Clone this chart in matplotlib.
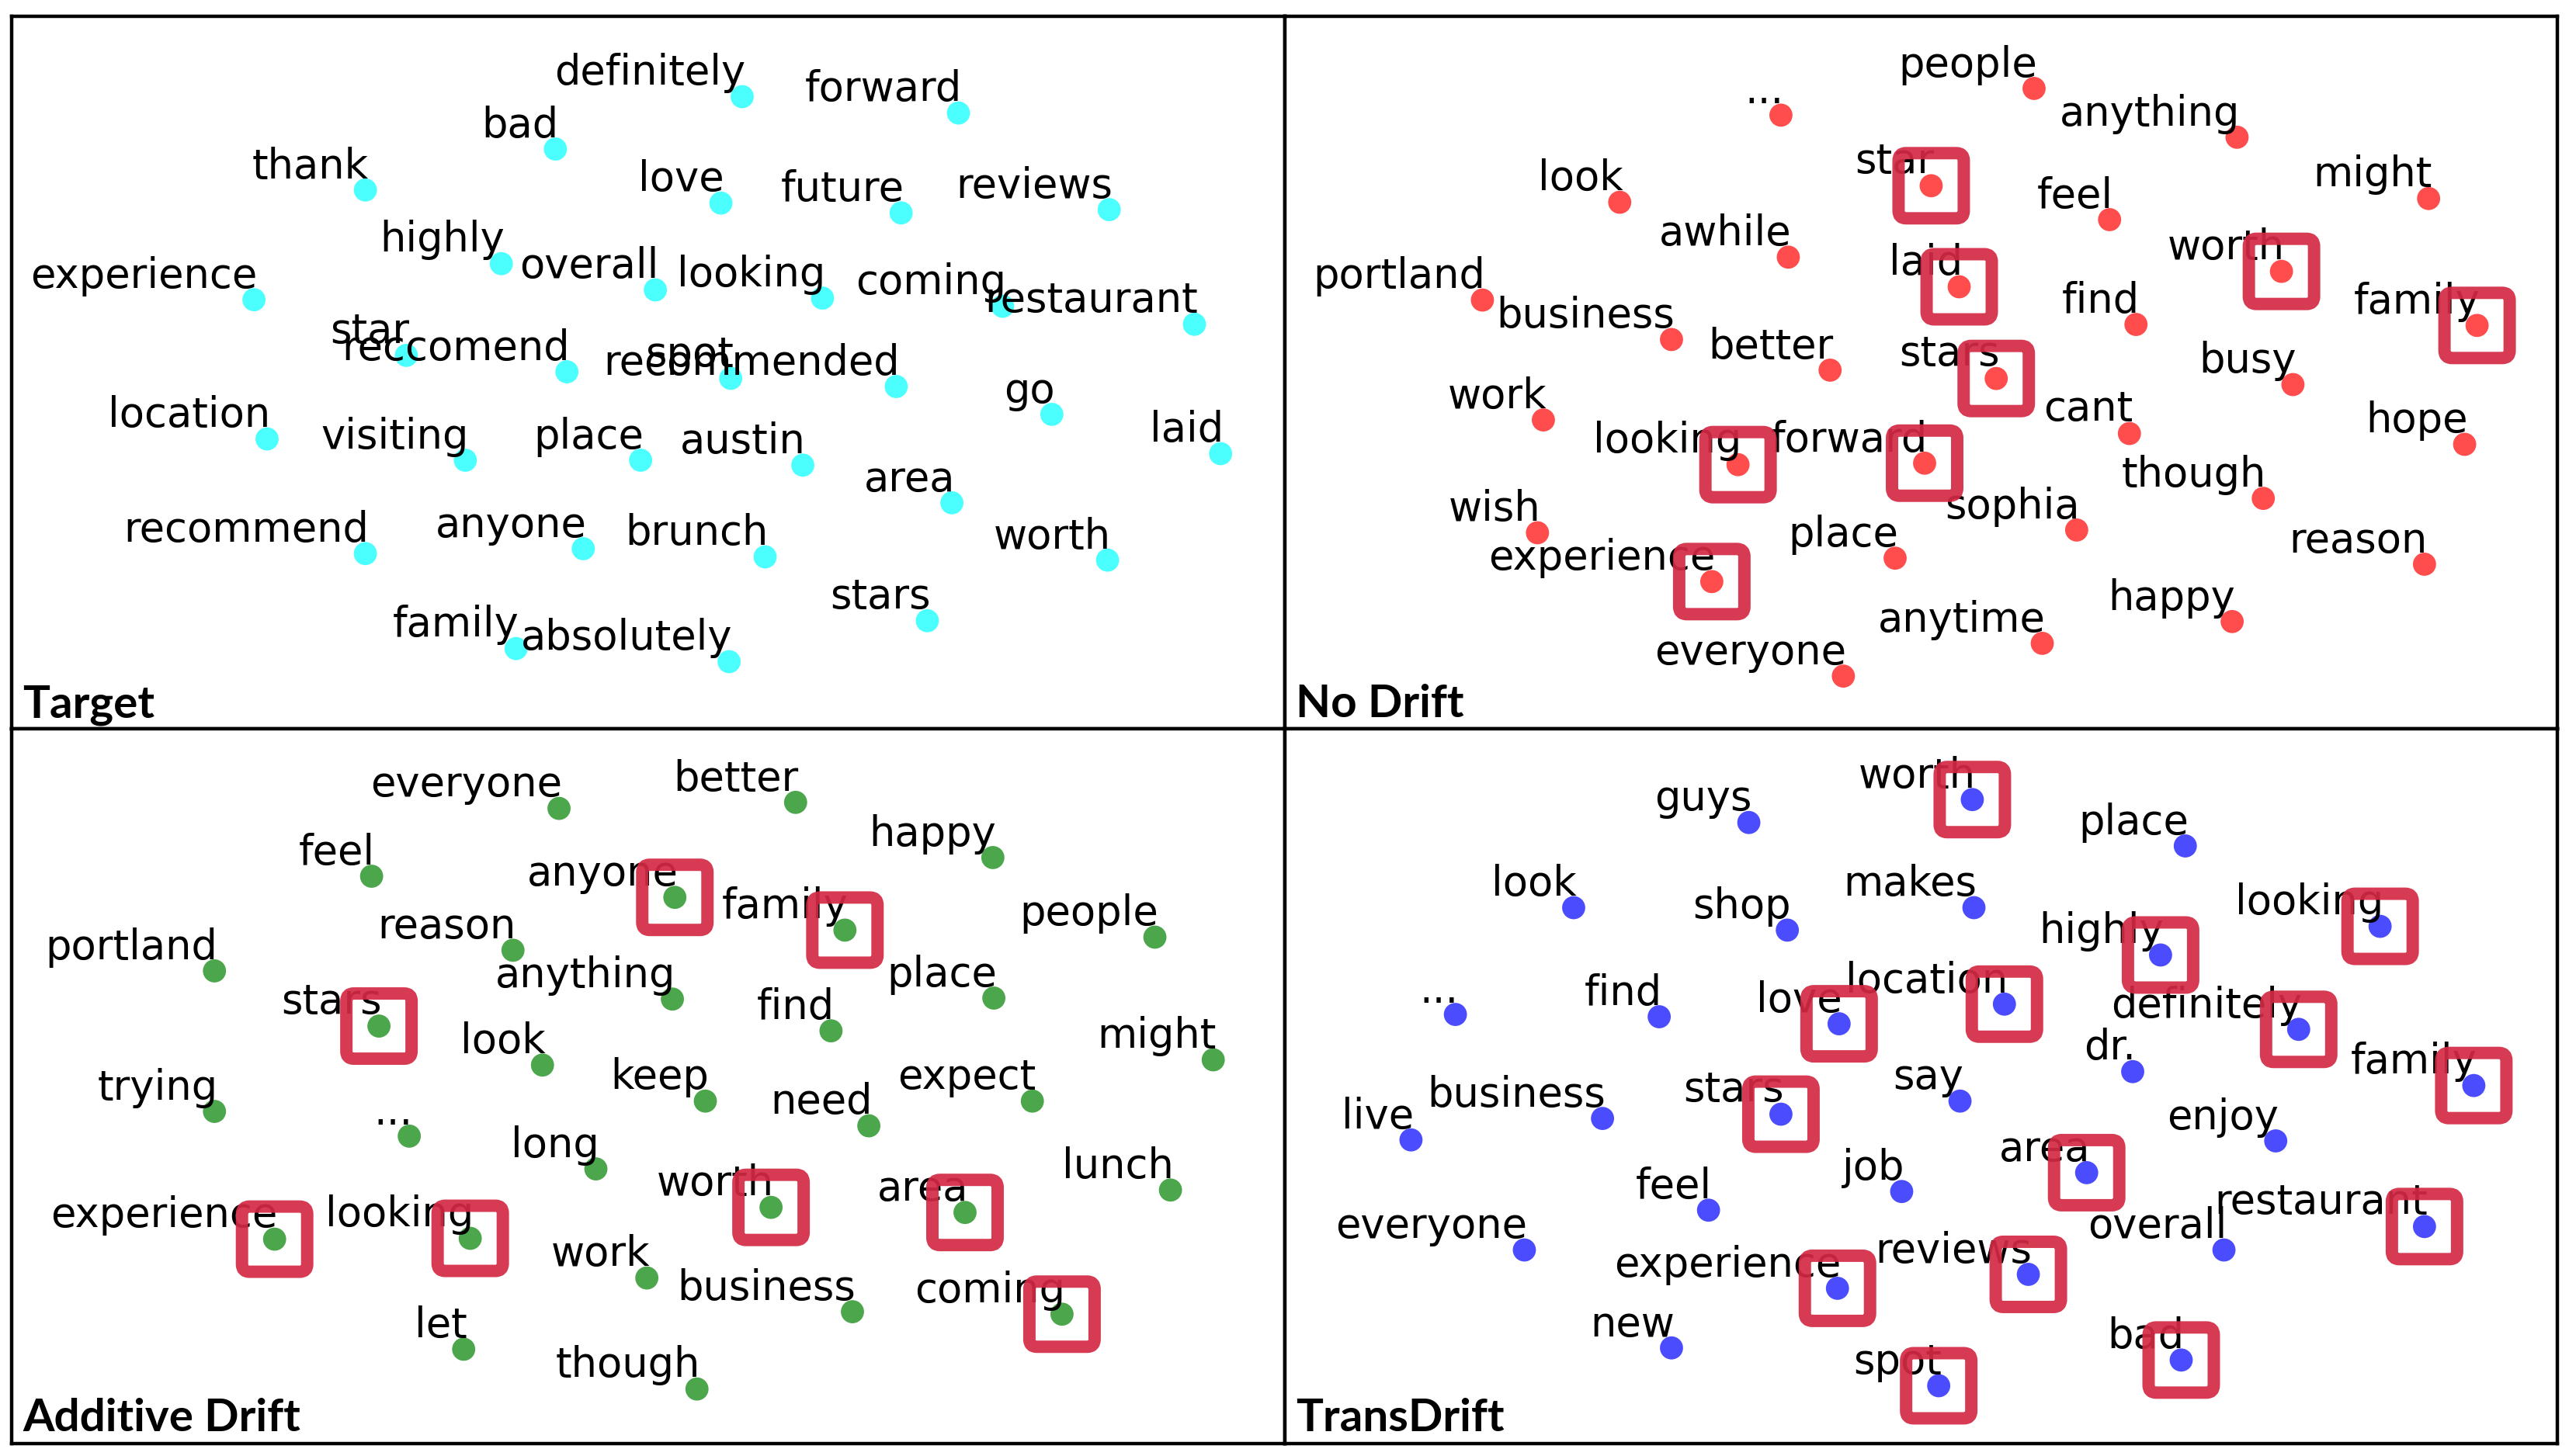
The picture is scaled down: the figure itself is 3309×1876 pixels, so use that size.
import matplotlib
matplotlib.use("Agg")
import matplotlib.pyplot as plt
from matplotlib.patches import FancyBboxPatch

# word embedding coordinates (2-d projection), one panel per method
target_words = ["definitely", "forward", "bad", "thank", "love", "future", "reviews", "highly",
                "experience", "overall", "looking", "coming", "restaurant", "star", "reccomend",
                "spot", "recommended", "go", "laid", "location", "visiting", "place", "austin",
                "area", "recommend", "anyone", "brunch", "worth", "stars", "family", "absolutely"]
target_x = [453, 585, 339, 223, 440, 550, 677, 306, 155, 400, 502, 612, 729, 248, 346,
            446, 547, 642, 745, 163, 284, 391, 490, 581, 223, 356, 467, 676, 566, 315, 445]
target_y = [59, 69, 91, 116, 124, 130, 128, 161, 183, 177, 182, 187, 198, 217, 227,
            231, 236, 253, 277, 268, 281, 281, 284, 307, 338, 335, 340, 342, 379, 396, 404]
target_boxed = []

nodrift_words = ["people", "...", "anything", "look", "star", "feel", "might", "awhile", "laid",
                 "worth", "portland", "find", "family", "business", "better", "stars", "busy",
                 "work", "cant", "hope", "looking", "forward", "though", "sophia", "wish", "place",
                 "reason", "experience", "happy", "anytime", "everyone"]
nodrift_x = [1241.5, 1087, 1365.4, 988.6, 1178.7, 1287.6, 1482.3, 1091.5, 1195.8, 1392.5, 904.8,
             1303.7, 1511.9, 1020.2, 1117, 1218.4, 1399.5, 942, 1299.7, 1504.3, 1060.8, 1174.7,
             1381.4, 1267.5, 938.4, 1156.7, 1479.8, 1044.8, 1362.4, 1246.5, 1125.1]
nodrift_y = [54, 70.3, 83.8, 123.5, 113.4, 134.1, 121.2, 157, 175.1, 165.7, 183.2, 198.1, 198.7,
             207.3, 226, 231.1, 234.8, 256.4, 264.7, 271.3, 283.7, 282.8, 304.3, 323.6, 325.3,
             340.8, 344.5, 355.1, 379.5, 392.8, 412.8]
nodrift_boxed = ["star", "laid", "worth", "family", "stars", "looking", "forward", "experience"]

additive_words = ["everyone", "better", "feel", "happy", "anyone", "family", "people", "portland",
                  "reason", "anything", "place", "stars", "find", "look", "might", "trying", "keep",
                  "need", "expect", "...", "long", "lunch", "worth", "area", "experience", "looking",
                  "work", "business", "coming", "let", "though"]
additive_x = [341.2, 485.6, 226.8, 606, 411.9, 515.7, 704.9, 130.9, 313.1, 410.4, 606.6, 231.3,
              507.2, 331.1, 740.5, 130.9, 430.5, 530.3, 630.1, 249.8, 363.7, 714.4, 470.6, 589,
              167.6, 287, 394.8, 520.3, 648.2, 283, 425.4]
additive_y = [493.6, 489.9, 535, 523.6, 547.9, 567.9, 572.2, 592.8, 580.2, 610, 609.4, 626.5,
              629.4, 650.3, 647.1, 678.6, 672.3, 687.4, 672.3, 693.7, 713.7, 726.6, 737.2, 740.3,
              756.6, 756.1, 780.3, 800.9, 802.4, 823.8, 848.1]
additive_boxed = ["anyone", "family", "stars", "worth", "area", "experience", "looking", "coming"]

trans_words = ["worth", "guys", "place", "look", "shop", "makes", "highly", "looking", "...", "find",
               "love", "location", "definitely", "dr.", "family", "live", "business", "stars", "say",
               "enjoy", "area", "job", "feel", "everyone", "restaurant", "overall", "experience",
               "reviews", "new", "bad", "spot"]
trans_x = [1203.8, 1067.4, 1333.8, 960.5, 1090.9, 1204.8, 1318.7, 1452.7, 888.3, 1012.7, 1122.5,
           1223.4, 1403, 1301.7, 1509.9, 861.2, 978.1, 1087, 1196.3, 1389, 1273.6, 1160.7, 1042.8,
           930.4, 1479.8, 1357.4, 1121.5, 1238, 1020.2, 1331.3, 1183.3]
trans_y = [488.2, 502.2, 516.5, 554.2, 567.9, 554.2, 583.1, 565.6, 619.4, 620.8, 625.1, 613.1,
           628.5, 654.3, 662.8, 696, 682.9, 680.3, 672.3, 696.6, 716, 727.5, 738.9, 763.2, 748.9,
           763.2, 786.6, 778.1, 823, 830.4, 846.1]
trans_boxed = ["worth", "highly", "looking", "love", "location", "definitely", "family", "stars",
               "area", "restaurant", "experience", "reviews", "bad", "spot"]

titles = ["Target", "No Drift", "Additive Drift", "TransDrift"]
colors = ["cyan", "red", "green", "blue"]

# panel edges in the embedding frame
xe = [7.1, 784.3, 1560.9]
ye = [9.95, 445.2, 881.2]
W, H = 1568.0, 889.0


def drawPanel(ax, words, xs, ys, boxed, color, title, xl, yl):
    ax.set_xlim(xl)
    ax.set_ylim(yl[1], yl[0])
    ax.set_xticks([])
    ax.set_yticks([])
    for s in ax.spines.values():
        s.set_linewidth(3.2)
        s.set_color("black")
    ax.scatter(xs, ys, s=460, c=color, alpha=0.7, edgecolors="none", zorder=2)
    for w, x, y in zip(words, xs, ys):
        ax.annotate(w, (x, y), xytext=(3, 11), textcoords="offset points",
                    ha="right", va="baseline", fontsize=38, color="black", zorder=3)
        if w in boxed:
            h = 19.9
            box = FancyBboxPatch((x - h, y - h), 2 * h, 2 * h,
                                 boxstyle="round,pad=0,rounding_size=4.5",
                                 fill=False, edgecolor="#d42a44", alpha=0.92,
                                 linewidth=11.5, joinstyle="round", zorder=4)
            ax.add_patch(box)
    ax.annotate(title, (0, 0), xycoords="axes fraction", xytext=(10, 11),
                textcoords="offset points", ha="left", va="baseline",
                fontsize=42, fontweight="bold", family=["Lato", "DejaVu Sans"])


fig = plt.figure(figsize=(33.09, 18.76), dpi=100)
data = [(target_words, target_x, target_y, target_boxed),
        (nodrift_words, nodrift_x, nodrift_y, nodrift_boxed),
        (additive_words, additive_x, additive_y, additive_boxed),
        (trans_words, trans_x, trans_y, trans_boxed)]
for i in range(4):
    r, c = i // 2, i % 2
    xl = (xe[c], xe[c + 1])
    yl = (ye[r], ye[r + 1])
    rect = [xl[0] / W, 1 - yl[1] / H, (xl[1] - xl[0]) / W, (yl[1] - yl[0]) / H]
    ax = fig.add_axes(rect)
    words, xs, ys, boxed = data[i]
    drawPanel(ax, words, xs, ys, boxed, colors[i], titles[i], xl, yl)

fig.savefig("out.png", dpi=100, facecolor="white")
